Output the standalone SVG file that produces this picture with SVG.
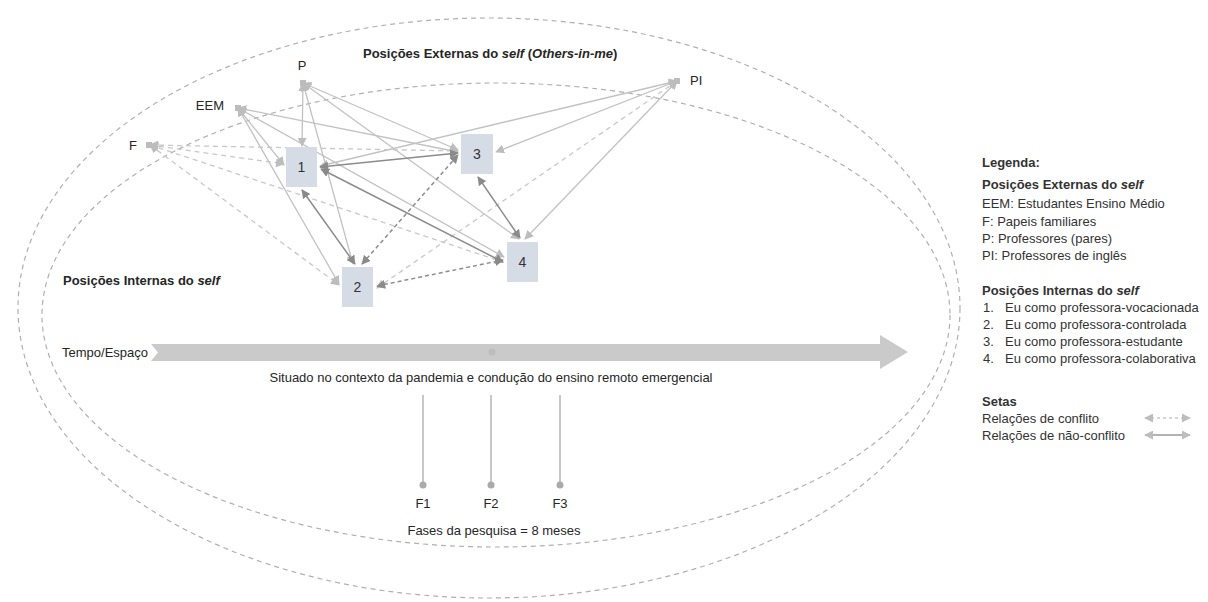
<svg xmlns="http://www.w3.org/2000/svg" width="1208" height="602" viewBox="0 0 1208 602">
<style>
text{font-family:"Liberation Sans",Arial,sans-serif;font-size:13px;fill:#262626}
.b{font-weight:bold}
.i{font-style:italic}
.ell{fill:none;stroke:#b0b0b0;stroke-width:1.2;stroke-dasharray:5 4}
.ls{fill:none;stroke:#c2c2c2;stroke-width:1.3;marker-start:url(#ahL);marker-end:url(#ahL)}
.ld{fill:none;stroke:#c8c8c8;stroke-width:1.3;stroke-dasharray:5 4;marker-start:url(#ahL);marker-end:url(#ahL)}
.ds{fill:none;stroke:#8c8c8c;stroke-width:1.5;marker-start:url(#ahD);marker-end:url(#ahD)}
.dd{fill:none;stroke:#8c8c8c;stroke-width:1.5;stroke-dasharray:4 3;marker-start:url(#ahD);marker-end:url(#ahD)}
.box{fill:#d6dce5}
.num{text-anchor:middle;font-size:14px;fill:#333}
.ext{fill:#bcbcbc}
.tick{stroke:#aaaaaa;stroke-width:1.3}
.dot{fill:#aaaaaa}
.leg{fill:#333}
</style>
<defs>
<marker id="ahL" viewBox="0 0 10 10" refX="9" refY="5" markerWidth="9" markerHeight="9" markerUnits="userSpaceOnUse" orient="auto-start-reverse"><path d="M0,0 L10,5 L0,10 z" fill="#bdbdbd"/></marker>
<marker id="ahD" viewBox="0 0 10 10" refX="9" refY="5" markerWidth="9" markerHeight="9" markerUnits="userSpaceOnUse" orient="auto-start-reverse"><path d="M0,0 L10,5 L0,10 z" fill="#8a8a8a"/></marker>
</defs>
<rect width="1208" height="602" fill="#ffffff"/>

<g id="ellipses">
<ellipse class="ell" cx="489" cy="308" rx="471" ry="290"/>
<ellipse class="ell" cx="496" cy="315" rx="454" ry="232"/>
</g>

<text class="b" x="363" y="58">Posições Externas do <tspan class="i">self</tspan> (<tspan class="i">Others-in-me</tspan>)</text>
<text class="b" x="63" y="285">Posições Internas do <tspan class="i">self</tspan></text>

<g id="connectors">
<!-- from P -->
<path class="ls" d="M303,83 L302,146"/>
<path class="ls" d="M303,83 L353,264"/>
<path class="ls" d="M303,83 L458,150"/>
<path class="ls" d="M303,83 L519,239"/>
<!-- from EEM -->
<path class="ls" d="M238,108 L284,165"/>
<path class="ls" d="M238,108 L339,284"/>
<path class="ls" d="M238,108 L458,152"/>
<path class="ls" d="M238,108 L504,257"/>
<!-- from PI -->
<path class="ls" d="M677,81 L320,166"/>
<path class="ls" d="M677,81 L496,152"/>
<path class="ls" d="M677,81 L525,239"/>
<path class="ld" d="M677,81 L377,288"/>
<!-- from F -->
<path class="ld" d="M150,145 L458,151"/>
<path class="ld" d="M150,145 L284,164"/>
<path class="ld" d="M150,145 L503,262"/>
<path class="ld" d="M150,145 L339,285"/>
<!-- internal -->
<path class="ds" d="M320,167 L458,153"/>
<path class="ds" d="M302,190 L355,264"/>
<path class="ds" d="M321,169 L503,262"/>
<path class="ds" d="M478,177 L520,238"/>
<path class="dd" d="M362,264 L458,155"/>
<path class="dd" d="M377,286 L503,260"/>
</g>

<g id="node-P"><rect class="ext" x="300" y="80" width="6" height="6"/><text x="302" y="70" text-anchor="middle">P</text></g>
<g id="node-EEM"><rect class="ext" x="235" y="105" width="6" height="6"/><text x="224" y="110" text-anchor="end">EEM</text></g>
<g id="node-F"><rect class="ext" x="146" y="142" width="6" height="6"/><text x="129" y="150">F</text></g>
<g id="node-PI"><rect class="ext" x="674" y="78" width="6" height="6"/><text x="690" y="85">PI</text></g>

<g id="node-1"><rect class="box" x="286" y="147" width="31" height="40"/><text class="num" x="301.5" y="172">1</text></g>
<g id="node-2"><rect class="box" x="342" y="267" width="31" height="40"/><text class="num" x="357.5" y="292">2</text></g>
<g id="node-3"><rect class="box" x="461" y="134" width="32" height="40"/><text class="num" x="477" y="159">3</text></g>
<g id="node-4"><rect class="box" x="507" y="242" width="31" height="40"/><text class="num" x="522.5" y="267">4</text></g>

<g id="timeline">
<text x="62" y="357">Tempo/Espaço</text>
<polygon points="151,344 880,344 880,335 908,352 880,369 880,361 151,361 158,352.5" fill="#cacaca"/>
<circle cx="492" cy="352" r="3.5" fill="#bdbdbd"/>
<text x="491" y="382" text-anchor="middle">Situado no contexto da pandemia e condução do ensino remoto emergencial</text>
<line class="tick" x1="423" y1="395" x2="423" y2="485"/>
<line class="tick" x1="491" y1="395" x2="491" y2="485"/>
<line class="tick" x1="560" y1="395" x2="560" y2="485"/>
<circle class="dot" cx="423" cy="485" r="3.5"/>
<circle class="dot" cx="491" cy="485" r="3.5"/>
<circle class="dot" cx="560" cy="485" r="3.5"/>
<text x="423" y="508" text-anchor="middle">F1</text>
<text x="491" y="508" text-anchor="middle">F2</text>
<text x="560" y="508" text-anchor="middle">F3</text>
<text x="494" y="535" text-anchor="middle">Fases da pesquisa = 8 meses</text>
</g>

<g id="legend">
<text class="b leg" x="982" y="167">Legenda:</text>
<text class="b leg" x="982" y="189">Posições Externas do <tspan class="i">self</tspan></text>
<text class="leg" x="982" y="208">EEM: Estudantes Ensino Médio</text>
<text class="leg" x="982" y="226">F: Papeis familiares</text>
<text class="leg" x="982" y="243">P: Professores (pares)</text>
<text class="leg" x="982" y="260">PI: Professores de inglês</text>
<text class="b leg" x="982" y="295">Posições Internas do <tspan class="i">self</tspan></text>
<text class="leg" x="983" y="312">1.</text><text class="leg" x="1005" y="312">Eu como professora-vocacionada</text>
<text class="leg" x="983" y="329">2.</text><text class="leg" x="1005" y="329">Eu como professora-controlada</text>
<text class="leg" x="983" y="346">3.</text><text class="leg" x="1005" y="346">Eu como professora-estudante</text>
<text class="leg" x="983" y="363">4.</text><text class="leg" x="1005" y="363">Eu como professora-colaborativa</text>
<text class="b leg" x="982" y="406">Setas</text>
<text class="leg" x="982" y="423">Relações de conflito</text>
<text class="leg" x="982" y="440">Relações de não-conflito</text>
<path class="ld" d="M1145,418 L1190,418" style="stroke-dasharray:3 3"/>
<path class="ls" d="M1145,435 L1190,435" style="stroke:#9a9a9a"/>
</g>
</svg>
